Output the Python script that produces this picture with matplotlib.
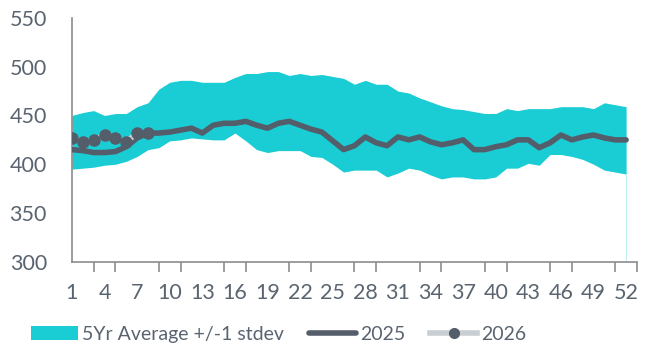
import matplotlib.pyplot as plt
from matplotlib.patches import Patch
from matplotlib.lines import Line2D

weeks = list(range(1, 53))

band_upper = [450, 453, 455, 450, 452, 452, 459, 463, 477, 484,
              486, 486, 484, 484, 484, 489, 493, 493, 495, 495,
              491, 493, 491, 492, 490, 488, 482, 486, 482, 482,
              475, 473, 468, 464, 460, 457, 456, 454, 452, 452,
              457, 455, 457, 457, 457, 459, 459, 459, 457, 463,
              461, 459]
band_lower = [395, 396, 397, 399, 400, 403, 408, 415, 417, 424,
              425, 427, 426, 425, 425, 432, 424, 415, 412, 414,
              414, 414, 408, 407, 400, 392, 394, 394, 394, 387,
              391, 396, 394, 389, 385, 387, 387, 385, 385, 387,
              396, 396, 401, 399, 410, 410, 408, 405, 400, 394,
              392, 390]
y2025 = [415, 414, 412, 412, 413, 418, 427, 432, 432, 433,
         435, 437, 432, 440, 442, 442, 444, 440, 437, 442,
         444, 440, 436, 433, 424, 415, 419, 428, 422, 419,
         428, 425, 428, 423, 420, 422, 425, 415, 415, 418,
         420, 425, 425, 417, 422, 430, 425, 428, 430, 427,
         425, 425]
weeks_2026 = [1, 2, 3, 4, 5, 6, 7, 8]
y2026 = [427, 423, 425, 430, 427, 423, 432, 432]

cyan = "#1ACCD4"
dark = "#545E6A"
light = "#C9CED2"
axis_col = "#8C8C8C"
text_col = "#5A6470"

plt.rcParams['font.family'] = ['Lato', 'DejaVu Sans']

fig = plt.figure(figsize=(6.48, 3.51), dpi=100)
ax = fig.add_axes([0.111, 0.254, 0.872, 0.695])

ax.fill_between(weeks, band_lower, band_upper, color=cyan, linewidth=0, zorder=1)
ax.vlines(weeks[-1], 300, band_lower[-1], color="#BFEFF1", linewidth=0.8, zorder=1)
ax.plot(weeks, y2025, color=dark, linewidth=4, solid_capstyle='round',
        solid_joinstyle='round', zorder=3)
ax.plot(weeks_2026, y2026, color=light, linewidth=4, marker='o', markersize=8,
        markerfacecolor=dark, markeredgecolor=dark, zorder=4)

ax.set_xlim(1, 53)
ax.set_ylim(300, 550)
ax.set_yticks(range(300, 551, 50))
ax.set_xticks(range(1, 54, 2), minor=True)
ax.set_xticks(range(1, 53, 3))
ax.tick_params(axis='x', which='minor', length=7, width=1.2, color=axis_col)
ax.tick_params(axis='x', which='major', length=0, pad=15, labelsize=15.5, labelcolor=text_col)
ax.tick_params(axis='y', length=0, pad=18, labelsize=15.5, labelcolor=text_col)

for s in ['top', 'right']:
    ax.spines[s].set_visible(False)
for s in ['left', 'bottom']:
    ax.spines[s].set_color(axis_col)
    ax.spines[s].set_linewidth(1.2)

handles = [
    Patch(facecolor=cyan, edgecolor='none'),
    Line2D([0], [0], color=dark, linewidth=4, solid_capstyle='round'),
    Line2D([0], [0], color=light, linewidth=4, marker='o', markersize=7,
           markerfacecolor=dark, markeredgecolor=dark),
]
labels = ["5Yr Average +/-1 stdev", "2025", "2026"]
fig.legend(handles, labels, loc='center', bbox_to_anchor=(0.43, 0.047), ncol=3,
           frameon=False, fontsize=14, labelcolor=text_col, handlelength=2.4,
           handletextpad=0.2, columnspacing=1.3)

fig.savefig("out.png", dpi=100)
